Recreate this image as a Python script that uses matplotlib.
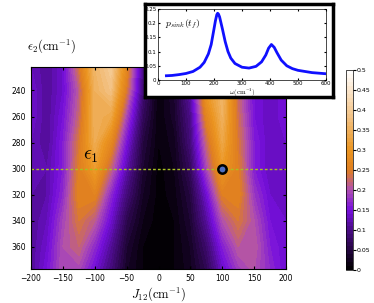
import numpy as np
import matplotlib
matplotlib.use("Agg")
import matplotlib.pyplot as plt
from matplotlib.colors import LinearSegmentedColormap

plt.rcParams["mathtext.fontset"] = "cm"

# grid
J12 = [-200, -175, -150, -125, -100, -75, -50, -25, 0, 25, 50, 75, 100, 125, 150, 175, 200]
eps2 = [220, 240, 260, 280, 300, 320, 340, 360, 380]
psink_map = [
    [0.13, 0.11, 0.14, 0.24, 0.36, 0.40, 0.27, 0.10, 0.01, 0.05, 0.13, 0.30, 0.38, 0.22, 0.15, 0.14, 0.16],
    [0.14, 0.11, 0.14, 0.21, 0.35, 0.38, 0.24, 0.09, 0.01, 0.04, 0.12, 0.30, 0.36, 0.22, 0.15, 0.13, 0.15],
    [0.14, 0.11, 0.15, 0.22, 0.35, 0.33, 0.19, 0.07, 0.01, 0.035, 0.10, 0.26, 0.35, 0.23, 0.15, 0.13, 0.15],
    [0.13, 0.11, 0.16, 0.24, 0.34, 0.27, 0.15, 0.05, 0.01, 0.025, 0.09, 0.22, 0.33, 0.24, 0.16, 0.13, 0.14],
    [0.13, 0.12, 0.16, 0.25, 0.31, 0.22, 0.12, 0.04, 0.005, 0.02, 0.07, 0.19, 0.30, 0.25, 0.16, 0.13, 0.14],
    [0.12, 0.12, 0.17, 0.26, 0.26, 0.17, 0.09, 0.03, 0.005, 0.015, 0.05, 0.14, 0.25, 0.26, 0.18, 0.14, 0.14],
    [0.11, 0.13, 0.19, 0.24, 0.21, 0.14, 0.06, 0.02, 0.003, 0.01, 0.04, 0.11, 0.20, 0.24, 0.20, 0.15, 0.14],
    [0.11, 0.14, 0.20, 0.22, 0.17, 0.11, 0.04, 0.01, 0.003, 0.01, 0.03, 0.08, 0.16, 0.21, 0.21, 0.16, 0.14],
    [0.11, 0.15, 0.20, 0.19, 0.14, 0.09, 0.03, 0.01, 0.003, 0.01, 0.025, 0.06, 0.13, 0.18, 0.20, 0.17, 0.14],
]

# inset curve p_sink(t_f) vs omega
omega = [30, 50, 75, 100, 125, 150, 165, 180, 190, 200, 205, 210, 213, 216, 220, 230, 240, 250, 260,
         275, 300, 325, 350, 370, 385, 395, 405, 415, 425, 440, 460, 480, 500, 550, 600]
psink = [0.015, 0.016, 0.019, 0.023, 0.030, 0.045, 0.062, 0.092, 0.125, 0.180, 0.208, 0.230, 0.235,
         0.232, 0.222, 0.180, 0.135, 0.100, 0.077, 0.058, 0.045, 0.042, 0.048, 0.064, 0.088, 0.112,
         0.125, 0.115, 0.096, 0.070, 0.050, 0.040, 0.034, 0.026, 0.022]

cmap = LinearSegmentedColormap.from_list("psink", [
    (0.0, "#000000"), (0.1, "#24053f"), (0.2, "#4a0c86"), (0.3, "#760fde"),
    (0.4, "#b050b0"), (0.5, "#e07f20"), (0.6, "#eb9520"), (0.76, "#f2c080"),
    (0.9, "#fbe6cc"), (1.0, "#ffffff")])

fig = plt.figure(figsize=(3.74, 3.03), dpi=100)
W, H = 374, 303
ax = fig.add_axes([31 / W, 1 - 269 / H, 255 / W, 202 / H])
cf = ax.contourf(J12, eps2, np.array(psink_map), levels=np.linspace(0, 0.5, 51), cmap=cmap)
ax.set_xlim(-200, 200)
ax.set_ylim(377, 222)
ax.set_xticks(range(-200, 201, 50))
ax.set_yticks(range(240, 361, 20))
ax.tick_params(labelsize=5.5, length=2, direction="in", top=True, right=True)
ax.set_xlabel(r"$J_{12}(\mathrm{cm}^{-1})$", fontsize=9, labelpad=2)
fig.text(27 / W, 1 - 46 / H, r"$\epsilon_2(\mathrm{cm}^{-1})$", fontsize=9, va="center")

ax.axhline(300, color="#a8c020", ls=(0, (2, 1.5)), lw=1)
ax.plot(100, 300, "o", ms=6, mfc="#5070c0", mec="black", mew=1.8)
ax.text(-118, 293, r"$\epsilon_1$", fontsize=14)

cax = fig.add_axes([346 / W, 1 - 270 / H, 7 / W, 200 / H])
cb = fig.colorbar(cf, cax=cax, ticks=np.arange(0, 0.51, 0.05))
cb.ax.set_yticklabels(["0", "0.05", "0.1", "0.15", "0.2", "0.25", "0.3", "0.35", "0.4", "0.45", "0.5"])
cb.ax.tick_params(labelsize=4.5, length=2, pad=0.5)
cb.outline.set_linewidth(0.5)

# inset with thick frame
frame = fig.add_axes([145 / W, 1 - 97 / H, 188 / W, 93 / H])
frame.set_xticks([])
frame.set_yticks([])
frame.set_facecolor("white")
for s in frame.spines.values():
    s.set_linewidth(2.5)
ins = fig.add_axes([158 / W, 1 - 80 / H, 168 / W, 71 / H])
ins.plot(omega, psink, color="#1010ff", lw=2)
ins.set_xlim(0, 600)
ins.set_ylim(0, 0.25)
ins.set_xticks(range(0, 601, 100))
ins.set_yticks([0, 0.05, 0.1, 0.15, 0.2, 0.25])
ins.set_yticklabels(["0", "0.05", "0.1", "0.15", "0.2", "0.25"])
ins.tick_params(labelsize=4, length=1.5, pad=1, direction="in", top=True, right=True)
for s in ins.spines.values():
    s.set_linewidth(0.5)
ins.set_xlabel(r"$\omega(\mathrm{cm}^{-1})$", fontsize=5, labelpad=0.5)
ins.text(0.04, 0.88, r"$p_{sink}(t_f)$", transform=ins.transAxes, fontsize=7, va="top")

fig.savefig("out.png", dpi=100)
